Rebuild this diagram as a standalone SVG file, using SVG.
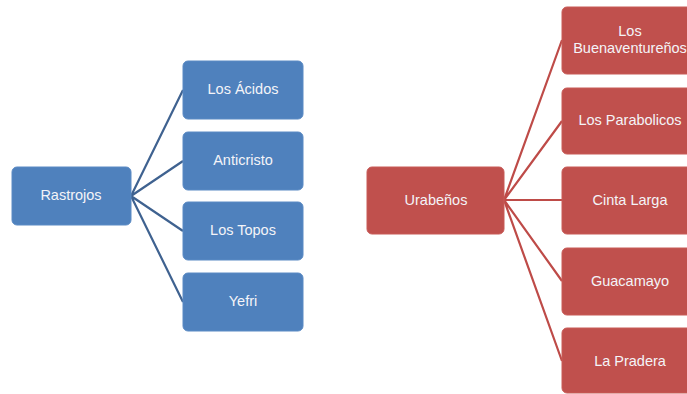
<svg xmlns="http://www.w3.org/2000/svg" width="687" height="394" viewBox="0 0 687 394">
<style>
.b{fill:#4F81BD;stroke:#5a8ac4;stroke-width:1}
.r{fill:#C0504D;stroke:#c85a57;stroke-width:1}
.t{font-family:"Liberation Sans",Arial,sans-serif;font-size:14.5px;fill:#F4F4F8;text-anchor:middle}
.lb{stroke:#3F6290;stroke-width:2.2;fill:none}
.lr{stroke:#BE4B48;stroke-width:2.2;fill:none}
</style>
<rect width="687" height="394" fill="#fff"/>
<g id="connectors">
<path class="lb" d="M131 196L183 90M131 196L183 161M131 196L183 231M131 196L183 302"/>
<path class="lr" d="M504 200L562 40M504 200L562 121M504 200L562 200M504 200L562 281M504 200L562 361"/>
</g>
<g id="rastrojos"><rect class="b" x="12" y="167" width="119" height="58" rx="5"/><text class="t" x="71" y="200">Rastrojos</text></g>
<g id="los-acidos"><rect class="b" x="183" y="61" width="120" height="58" rx="5"/><text class="t" x="243" y="94">Los Ácidos</text></g>
<g id="anticristo"><rect class="b" x="183" y="132" width="120" height="58" rx="5"/><text class="t" x="243" y="165">Anticristo</text></g>
<g id="los-topos"><rect class="b" x="183" y="202" width="120" height="58" rx="5"/><text class="t" x="243" y="235">Los Topos</text></g>
<g id="yefri"><rect class="b" x="183" y="273" width="120" height="58" rx="5"/><text class="t" x="243" y="306">Yefri</text></g>
<g id="urabenos"><rect class="r" x="367" y="167" width="137" height="67" rx="5"/><text class="t" x="436" y="205">Urabeños</text></g>
<g id="buenaventurenos"><rect class="r" x="562" y="7" width="137" height="67" rx="5"/><text class="t" x="630" y="36">Los</text><text class="t" x="630" y="53">Buenaventureños</text></g>
<g id="parabolicos"><rect class="r" x="562" y="88" width="137" height="66" rx="5"/><text class="t" x="630" y="125">Los Parabolicos</text></g>
<g id="cinta-larga"><rect class="r" x="562" y="167" width="137" height="67" rx="5"/><text class="t" x="630" y="205">Cinta Larga</text></g>
<g id="guacamayo"><rect class="r" x="562" y="248" width="137" height="67" rx="5"/><text class="t" x="630" y="286">Guacamayo</text></g>
<g id="la-pradera"><rect class="r" x="562" y="328" width="137" height="65" rx="5"/><text class="t" x="630" y="366">La Pradera</text></g>
</svg>
